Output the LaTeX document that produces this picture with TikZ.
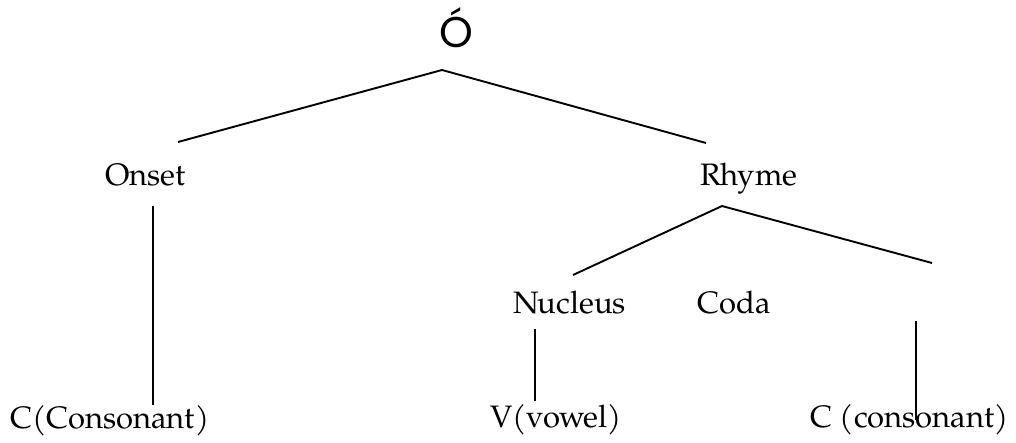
\documentclass[tikz,border=0pt]{standalone}
\usepackage{fontspec}
\setmainfont{TeX Gyre Pagella}
\newfontfamily\topfont{Poppins}
\begin{document}
\begin{tikzpicture}[x=1pt,y=-1pt,
  lbl/.style={inner sep=0pt,anchor=base west,font=\fontsize{31}{36}\selectfont},
  edge/.style={line width=1.9pt}]
\useasboundingbox (0,0) rectangle (1016,443);
\node[inner sep=0pt,anchor=base,font=\topfont\fontsize{43}{48}\selectfont] (root) at (456,48) {Ó};
\node[lbl] (onset) at (105,186) {Onset};
\node[lbl] (rhyme) at (700,186) {Rhyme};
\node[lbl] (nucleus) at (513,313) {Nucleus};
\node[lbl] (coda) at (697,313) {Coda};
\node[lbl] (c1) at (10,428) {C(Consonant)};
\node[lbl] (v) at (490,427) {V(vowel)};
\node[lbl] (c2) at (810,427) {C (consonant)};
\coordinate (a0) at (442,70);
\coordinate (a1) at (178,142);
\coordinate (a2) at (706,143);
\coordinate (b0) at (153,206);
\coordinate (b1) at (153,405);
\coordinate (r0) at (722,206);
\coordinate (r1) at (573,275);
\coordinate (r2) at (932,263);
\coordinate (n0) at (535,329);
\coordinate (n1) at (535,401);
\coordinate (k0) at (916,321);
\coordinate (k1) at (916,420);
\draw[edge] (a1) -- (a0) -- (a2);
\draw[edge] (b0) -- (b1);
\draw[edge] (r1) -- (r0) -- (r2);
\draw[edge] (n0) -- (n1);
\draw[edge] (k0) -- (k1);
\end{tikzpicture}
\end{document}
